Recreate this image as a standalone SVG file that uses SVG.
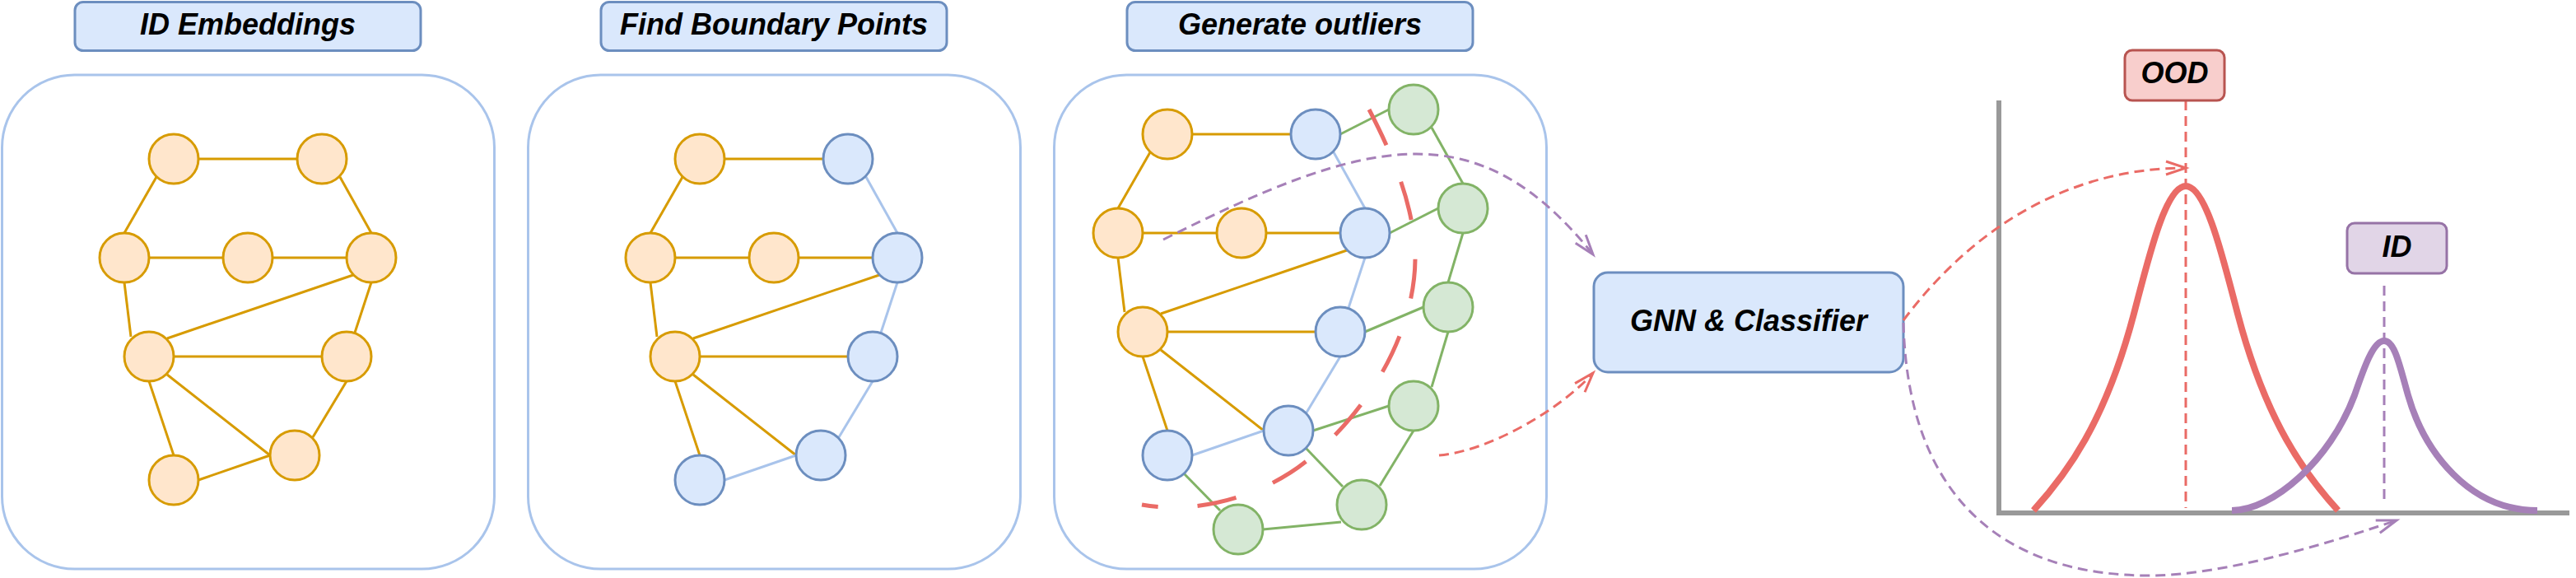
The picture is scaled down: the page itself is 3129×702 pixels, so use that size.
<svg xmlns="http://www.w3.org/2000/svg" width="3129" height="702" viewBox="0 0 3129 702">
<style>
.panel{fill:#ffffff;stroke:#a9c4eb;stroke-width:3}
.title{fill:#dae8fc;stroke:#6c8ebf;stroke-width:3}
.t{font-family:"Liberation Sans",Arial,Helvetica,sans-serif;font-weight:bold;font-style:italic;font-size:36px;text-anchor:middle;fill:#000000}
.o{fill:#ffe6cc;stroke:#d79b00;stroke-width:3}
.b{fill:#dae8fc;stroke:#6c8ebf;stroke-width:3}
.g{fill:#d5e8d4;stroke:#82b366;stroke-width:3}
.eo{stroke:#d79b00;stroke-width:3;fill:none}
.eb{stroke:#a9c4eb;stroke-width:3;fill:none}
.eg{stroke:#82b366;stroke-width:3;fill:none}
.dr{fill:none;stroke:#ea6b66;stroke-width:3;stroke-dasharray:12 7}
.dp{fill:none;stroke:#a680b8;stroke-width:3;stroke-dasharray:12 7}
.axis{fill:none;stroke:#999999;stroke-width:6}
</style>
<defs>
<marker id="arR" markerUnits="userSpaceOnUse" orient="auto" refX="0" refY="0" markerWidth="30" markerHeight="24" overflow="visible">
<path d="M-24,-8 L0,0 L-24,8" fill="none" stroke="#ea6b66" stroke-width="3"/>
</marker>
<marker id="arP" markerUnits="userSpaceOnUse" orient="auto" refX="0" refY="0" markerWidth="30" markerHeight="24" overflow="visible">
<path d="M-24,-8 L0,0 L-24,8" fill="none" stroke="#a680b8" stroke-width="3"/>
</marker>
</defs>
<rect width="3129" height="702" fill="#ffffff"/>

<g id="panel1"><rect class="panel" x="2.5" y="91" width="598" height="600" rx="88"/></g>
<g id="panel2"><rect class="panel" x="641.5" y="91" width="598" height="600" rx="88"/></g>
<g id="panel3"><rect class="panel" x="1280.5" y="91" width="598" height="600" rx="88"/></g>

<g id="title1"><rect class="title" x="91" y="2.5" width="420" height="59" rx="10"/><text class="t" x="301" y="42">ID Embeddings</text></g>
<g id="title2"><rect class="title" x="730" y="2.5" width="420" height="59" rx="10"/><text class="t" x="940" y="42">Find Boundary Points</text></g>
<g id="title3"><rect class="title" x="1369" y="2.5" width="420" height="59" rx="10"/><text class="t" x="1579" y="42">Generate outliers</text></g>

<g id="edges">
<g id="edges1">
<path class="eo" d="M241,193H361"/>
<path class="eo" d="M190,215L151,283"/>
<path class="eo" d="M413,215L451,283"/>
<path class="eo" d="M181,313H271"/>
<path class="eo" d="M331,313H421"/>
<path class="eo" d="M151,343L159,409"/>
<path class="eo" d="M429,334L203,411"/>
<path class="eo" d="M451,343L431,404"/>
<path class="eo" d="M211,433H391"/>
<path class="eo" d="M181,463L211,553"/>
<path class="eo" d="M203,455L328,553"/>
<path class="eo" d="M421,463L380,531"/>
<path class="eo" d="M241,583L328,553"/>
</g>
<g id="edges2">
<path class="eo" d="M880,193H1000"/>
<path class="eo" d="M829,215L790,283"/>
<path class="eb" d="M1052,215L1090,283"/>
<path class="eo" d="M820,313H910"/>
<path class="eo" d="M970,313H1060"/>
<path class="eo" d="M790,343L798,409"/>
<path class="eo" d="M1068,334L842,411"/>
<path class="eb" d="M1090,343L1070,404"/>
<path class="eo" d="M850,433H1030"/>
<path class="eo" d="M820,463L850,553"/>
<path class="eo" d="M842,455L967,553"/>
<path class="eb" d="M1060,463L1019,531"/>
<path class="eb" d="M880,583L967,553"/>
</g>
<g id="edges3">
<path class="eo" d="M1448,163H1568"/>
<path class="eo" d="M1397,185L1358,253"/>
<path class="eb" d="M1620,185L1658,253"/>
<path class="eo" d="M1388,283H1478"/>
<path class="eo" d="M1538,283H1628"/>
<path class="eo" d="M1358,313L1366,379"/>
<path class="eo" d="M1636,304L1410,381"/>
<path class="eb" d="M1658,313L1638,374"/>
<path class="eo" d="M1418,403H1598"/>
<path class="eo" d="M1388,433L1418,523"/>
<path class="eo" d="M1410,425L1535,523"/>
<path class="eb" d="M1628,433L1587,501"/>
<path class="eb" d="M1448,553L1535,523"/>
<path class="eg" d="M1628,163L1687,133"/>
<path class="eg" d="M1739,155L1777,223"/>
<path class="eg" d="M1688,283L1747,253"/>
<path class="eg" d="M1777,283L1759,343"/>
<path class="eg" d="M1658,403L1729,373"/>
<path class="eg" d="M1759,403L1739,470"/>
<path class="eg" d="M1595,523L1687,493"/>
<path class="eg" d="M1717,523L1676,590"/>
<path class="eg" d="M1586,544L1631,591"/>
<path class="eg" d="M1629,634L1534,643"/>
<path class="eg" d="M1438,575L1482,620"/>
</g>
</g>

<g id="nodes1">
<g id="p1-A"><circle class="o" cx="211" cy="193" r="30"/></g>
<g id="p1-B"><circle class="o" cx="391" cy="193" r="30"/></g>
<g id="p1-C"><circle class="o" cx="151" cy="313" r="30"/></g>
<g id="p1-D"><circle class="o" cx="301" cy="313" r="30"/></g>
<g id="p1-E"><circle class="o" cx="451" cy="313" r="30"/></g>
<g id="p1-F"><circle class="o" cx="181" cy="433" r="30"/></g>
<g id="p1-G"><circle class="o" cx="421" cy="433" r="30"/></g>
<g id="p1-H"><circle class="o" cx="358" cy="553" r="30"/></g>
<g id="p1-I"><circle class="o" cx="211" cy="583" r="30"/></g>
</g>
<g id="nodes2">
<g id="p2-A"><circle class="o" cx="850" cy="193" r="30"/></g>
<g id="p2-B"><circle class="b" cx="1030" cy="193" r="30"/></g>
<g id="p2-C"><circle class="o" cx="790" cy="313" r="30"/></g>
<g id="p2-D"><circle class="o" cx="940" cy="313" r="30"/></g>
<g id="p2-E"><circle class="b" cx="1090" cy="313" r="30"/></g>
<g id="p2-F"><circle class="o" cx="820" cy="433" r="30"/></g>
<g id="p2-G"><circle class="b" cx="1060" cy="433" r="30"/></g>
<g id="p2-H"><circle class="b" cx="997" cy="553" r="30"/></g>
<g id="p2-I"><circle class="b" cx="850" cy="583" r="30"/></g>
</g>
<g id="nodes3">
<g id="p3-A"><circle class="o" cx="1418" cy="163" r="30"/></g>
<g id="p3-B"><circle class="b" cx="1598" cy="163" r="30"/></g>
<g id="p3-C"><circle class="o" cx="1358" cy="283" r="30"/></g>
<g id="p3-D"><circle class="o" cx="1508" cy="283" r="30"/></g>
<g id="p3-E"><circle class="b" cx="1658" cy="283" r="30"/></g>
<g id="p3-F"><circle class="o" cx="1388" cy="403" r="30"/></g>
<g id="p3-G"><circle class="b" cx="1628" cy="403" r="30"/></g>
<g id="p3-H"><circle class="b" cx="1565" cy="523" r="30"/></g>
<g id="p3-I"><circle class="b" cx="1418" cy="553" r="30"/></g>
<g id="p3-J"><circle class="g" cx="1717" cy="133" r="30"/></g>
<g id="p3-K"><circle class="g" cx="1777" cy="253" r="30"/></g>
<g id="p3-L"><circle class="g" cx="1759" cy="373" r="30"/></g>
<g id="p3-M"><circle class="g" cx="1717" cy="493" r="30"/></g>
<g id="p3-N"><circle class="g" cx="1654" cy="613" r="30"/></g>
<g id="p3-O"><circle class="g" cx="1504" cy="643" r="30"/></g>
</g>

<g id="boundary">
<path d="M1663,133 C1692,189 1719,252 1719,315 C1718,408 1659.5,502 1587,560 C1533,603 1455,625 1387,613" fill="none" stroke="#ea6b66" stroke-width="5" stroke-dasharray="48 48"/>
</g>

<g id="gnn"><rect class="title" x="1936" y="331" width="376" height="121" rx="17"/><text class="t" x="2124" y="402">GNN &amp; Classifier</text></g>

<g id="chart">
<path class="axis" d="M2428,122V623H3121"/>
<path d="M2470,620 C2510,576 2557,513.7 2592,381 C2609,316.6 2630,226 2655,226 C2680,226 2701,316.6 2718,381 C2753,513.7 2800,576 2840,620" fill="none" stroke="#ea6b66" stroke-width="8"/>
<path d="M2711,620 C2760,620 2830,560 2860,480 C2872,445 2883,414 2896,414 C2909,414 2915,445 2925,480 C2945,550 3000,620 3082,620" fill="none" stroke="#a680b8" stroke-width="8"/>
<path class="dr" d="M2655,122V617"/>
<path class="dp" d="M2896,347V608"/>
</g>
<g id="ood"><rect x="2581" y="61" width="121" height="61" rx="9" fill="#f8cecc" stroke="#b85450" stroke-width="3"/><text class="t" x="2641.5" y="101">OOD</text></g>
<g id="id"><rect x="2851" y="271" width="121" height="61" rx="9" fill="#e1d5e7" stroke="#9673a6" stroke-width="3"/><text class="t" x="2911.5" y="312">ID</text></g>

<g id="connectors">
<path class="dp" d="M1413,291 C1660,167 1793,132 1935,309" marker-end="url(#arP)"/>
<path class="dr" d="M1748,553 C1808,548 1895,498 1935,453" marker-end="url(#arR)"/>
<path class="dr" d="M2312,389 C2390,285 2505,204 2655,204" marker-end="url(#arR)"/>
<path class="dp" d="M2312,392 C2318,620 2450,699 2610,699 C2700,699 2825.5,660.8 2911,632" marker-end="url(#arP)"/>
</g>
</svg>
